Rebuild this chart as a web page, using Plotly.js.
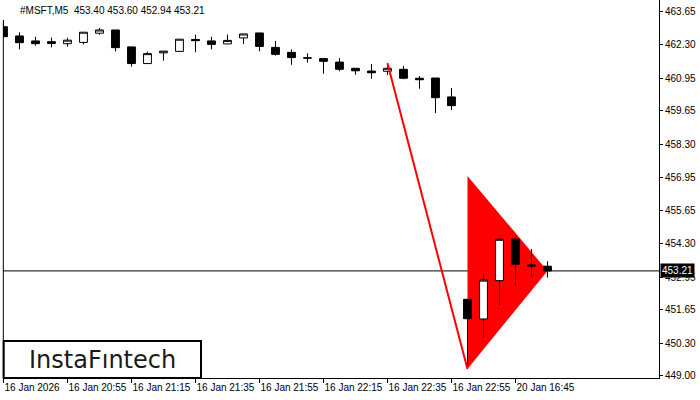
<!DOCTYPE html>
<html><head><meta charset="utf-8">
<script src="https://cdn.plot.ly/plotly-3.0.1.min.js"></script>
<style>html,body{margin:0;padding:0;background:#fff}#chart{width:700px;height:400px}</style>
</head><body><div id="chart"></div>
<script>
// Candle index (5-minute bars)
const candleIndex = [0,1,2,3,4,5,6,7,8,9,10,11,12,13,14,15,16,17,18,19,20,21,22,23,24,25,26,27,28,29,30,31,32,33,34];
const openPrices  = [463.02,462.65,462.45,462.42,462.34,462.39,462.76,462.89,462.21,461.54,461.97,462.03,462.51,462.45,462.33,462.57,462.77,462.19,461.99,461.77,461.74,461.60,461.35,461.24,461.23,461.31,460.95,460.96,460.20,452.07,451.28,452.82,454.49,453.45,453.40];
const highPrices  = [463.29,462.80,462.62,462.58,462.58,462.80,462.97,462.89,462.21,462.02,462.04,462.52,462.70,462.62,462.71,462.73,462.77,462.45,462.11,461.95,461.74,461.76,461.35,461.52,461.55,461.44,461.04,460.96,460.56,452.07,453.09,454.53,454.58,454.09,453.60];
const lowPrices   = [462.60,462.11,462.26,462.19,462.22,462.31,462.70,462.03,461.42,461.54,461.66,462.03,461.99,462.11,462.33,462.33,462.03,461.86,461.49,461.58,461.13,461.23,461.09,460.93,461.08,460.91,460.53,459.55,459.67,449.30,450.55,451.84,452.62,452.98,452.94];
const closePrices = [462.62,462.38,462.34,462.35,462.48,462.80,462.89,462.18,461.54,461.94,462.04,462.52,462.46,462.31,462.47,462.73,462.23,461.91,461.78,461.76,461.63,461.31,461.25,461.17,461.35,460.95,460.89,460.17,459.85,451.29,452.84,454.48,453.48,453.41,453.21];

// Pattern (bearish pennant) geometry in data units
const poleX = [24, 29];
const poleY = [461.55, 449.27];
const pennantX = [29, 29, 34];
const pennantY = [457.02, 449.27, 453.21];

// Axis labels
const xTickVals = [0,4,8,12,16,20,24,28,32];
const xTickText = ["16 Jan 2026","16 Jan 20:55","16 Jan 21:15","16 Jan 21:35","16 Jan 21:55","16 Jan 22:15","16 Jan 22:35","16 Jan 22:55","20 Jan 16:45"];
const yTickVals = [449.00,450.30,451.65,452.95,454.30,455.65,456.95,458.30,459.65,460.95,462.30,463.65];

const lastClose = closePrices[closePrices.length-1];
const symbolTitle = "#MSFT,M5\u00a0\u00a0" + [openPrices[34],highPrices[34],lowPrices[34],closePrices[34]].map(v=>v.toFixed(2)).join(" ");

const pennantPath = "M " + pennantX.map((x,i)=>x+","+pennantY[i]).join(" L ") + " Z";

const W=700, H=400, ML=3, MR=41, MT=0, MB=22;
const PW = W-ML-MR, PH = H-MT-MB;
const px = p => (p-ML)/PW;
const py = p => (H-MB-p)/PH;

const traces = [
  {
    type:'candlestick', x:candleIndex, open:openPrices, high:highPrices, low:lowPrices, close:closePrices,
    increasing:{line:{color:'#000',width:1}, fillcolor:'#ffffff'},
    decreasing:{line:{color:'#000',width:1}, fillcolor:'#000000'},
    whiskerwidth:0, hoverinfo:'skip', showlegend:false
  },
  {
    type:'scatter', mode:'lines', x:poleX, y:poleY,
    line:{color:'#ff0000', width:2}, hoverinfo:'skip', showlegend:false
  }
];

const layout = {
  width:W, height:H,
  margin:{l:ML, r:MR, t:MT, b:MB},
  paper_bgcolor:'#fff', plot_bgcolor:'#fff',
  showlegend:false,
  font:{family:'"Liberation Sans", Arial, sans-serif', size:10, color:'#000'},
  xaxis:{
    range:[-0.03, 40.97], showgrid:false, zeroline:false,
    rangeslider:{visible:false},
    showline:true, linecolor:'#000', linewidth:1,
    ticks:'outside', ticklen:4, tickwidth:1, tickcolor:'#000',
    tickvals:xTickVals, ticktext:xTickText, tickangle:0,
    ticklabelposition:'outside right',
    tickfont:{family:'"Liberation Sans", Arial, sans-serif', size:10, color:'#000'},
    fixedrange:true
  },
  yaxis:{
    side:'right', range:[448.908, 464.094], showgrid:false, zeroline:false,
    showline:true, linecolor:'#000', linewidth:1,
    ticks:'outside', ticklen:3, tickwidth:1, tickcolor:'#000',
    tickvals:yTickVals, tickformat:'.2f',
    tickfont:{family:'"Liberation Sans", Arial, sans-serif', size:10, color:'#000'},
    fixedrange:true
  },
  shapes:[
    {type:'path', path:pennantPath, xref:'x', yref:'y', fillcolor:'#ff0000', line:{width:0}, layer:'below'},
    {type:'line', xref:'paper', x0:0, x1:1, yref:'y', y0:lastClose, y1:lastClose, line:{color:'#000', width:1}, layer:'below'},
    {type:'line', xref:'paper', x0:0.0005, x1:0.0005, yref:'paper', y0:0, y1:py(21), line:{color:'#000', width:1}},
    {type:'rect', xref:'paper', yref:'paper', x0:px(3.7), x1:px(201), y0:py(378), y1:py(341), fillcolor:'#fff', line:{color:'#000', width:2}, layer:'above'}
  ],
  annotations:[
    {xref:'paper', yref:'paper', x:px(18), y:py(10.5), xanchor:'left', yanchor:'middle', showarrow:false,
     text:symbolTitle, font:{family:'"Liberation Sans", Arial, sans-serif', size:10, color:'#000'}},
    {xref:'paper', yref:'y', x:1, y:lastClose, xanchor:'left', yanchor:'middle', xshift:1, showarrow:false,
     text:lastClose.toFixed(2), bgcolor:'#000', borderpad:1, font:{family:'"Liberation Sans", Arial, sans-serif', size:10, color:'#fff'}},
    {xref:'paper', yref:'paper', x:px(102.5), y:py(359.5), xanchor:'center', yanchor:'middle', showarrow:false,
     text:'InstaF\u0131ntech', font:{family:'"DejaVu Sans", sans-serif', size:24, color:'#1a1a1a'}}
  ]
};

Plotly.newPlot('chart', traces, layout, {staticPlot:true, displayModeBar:false});
</script></body></html>
